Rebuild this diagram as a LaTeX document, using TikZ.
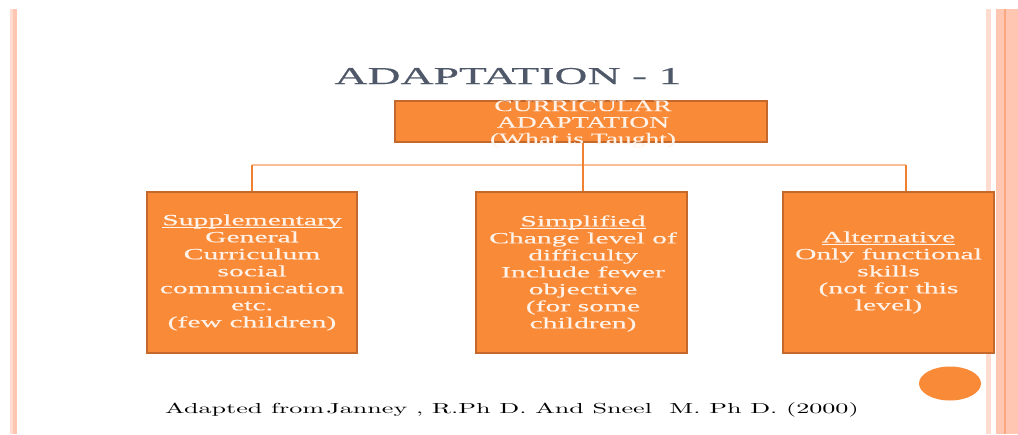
\documentclass[tikz,border=0pt]{standalone}
\usepackage{fontspec}
\newfontfamily\widefont{lmroman10-regular.otf}[FakeStretch=1.8]
\newfontfamily\boxserif{Liberation Serif}[FakeStretch=1.9, FakeBold=0.4]
\newfontfamily\topserif{Liberation Serif}[FakeStretch=1.72, FakeBold=0.3]
\newfontfamily\titleserif{Liberation Serif}[FakeStretch=1.89, FakeBold=0.3]
% underline drawn as a thin rule that does not add to the line depth
\newcommand\headul[1]{\setbox0\hbox{#1}\rlap{\rule[-2.6pt]{\wd0}{0.75pt}}\box0}
\definecolor{boxfill}{RGB}{249,138,56}
\definecolor{boxline}{RGB}{196,104,44}
\definecolor{linkcol}{RGB}{240,128,50}
\definecolor{buscol}{RGB}{249,190,150}
\definecolor{titlecol}{RGB}{78,88,104}
\definecolor{boxtextcol}{RGB}{255,242,232}
\definecolor{stripepale}{RGB}{255,220,208}
\definecolor{stripesalmon}{RGB}{255,198,178}
\definecolor{stripedark}{RGB}{250,168,128}
\tikzset{
  orangebox/.style={draw=boxline, line width=1.8pt, fill=boxfill, inner sep=0pt},
  boxlabel/.style={text=boxtextcol, align=center, inner sep=0pt,
    font=\boxserif\fontsize{15.6}{17}\selectfont},
  toplabel/.style={text=boxtextcol, align=center, inner sep=0pt,
    font=\topserif\fontsize{16}{16.5}\selectfont},
  link/.style={draw=linkcol, line width=1.4pt},
  busline/.style={draw=buscol, line width=1.8pt},
}
\begin{document}
\begin{tikzpicture}[x=1pt,y=-1pt]
\useasboundingbox (0,0) rectangle (1018,434);
\fill[white] (0,0) rectangle (1018,434);
% decorative side stripes
\fill[stripepale] (10,9) rectangle (12.5,434);
\fill[stripesalmon] (12.5,9) rectangle (17,434);
\fill[stripepale] (986,9) rectangle (991,434);
\fill[stripesalmon] (996,9) rectangle (1018,434);
\fill[stripedark] (1004,9) rectangle (1006,434);
% title
\node[anchor=base, text=titlecol, inner sep=0pt,
  font=\titleserif\fontsize{24.2}{27}\selectfont] (title) at (508,84) {ADAPTATION - 1};
% top box
\node[orangebox, minimum width=372pt, minimum height=41pt] (top) at (581,121.5) {};
\node[toplabel] (toplbl) at (583,124) {CURRICULAR\\ADAPTATION\\(What is Taught)};
% child boxes
\node[orangebox, minimum width=210pt, minimum height=161pt] (b1) at (252,272.5) {};
\node[boxlabel] (b1lbl) at (b1.center) {\headul{Supplementary}\\General\\Curriculum\\social\\communication\\etc.\\(few children)};
\node[orangebox, minimum width=211pt, minimum height=161pt] (b2) at (581.5,272.5) {};
\node[boxlabel] (b2lbl) at (583,273.5) {\headul{Simplified}\\Change level of\\difficulty\\Include fewer\\objective\\(for some\\children)};
\node[orangebox, minimum width=211pt, minimum height=161pt] (b3) at (888.5,272.5) {};
\node[boxlabel] (b3lbl) at (b3.center) {\headul{Alternative}\\Only functional\\skills\\(not for this\\level)};
% connectors
\coordinate (busL) at (252,165);
\coordinate (busM) at (583,165);
\coordinate (busR) at (906,165);
\draw[busline] (busL) -- (busR);
\draw[link] (top.south -| busM) -- (busM);
\draw[link] (busL) -- (busL |- b1.north);
\draw[link] (busM) -- (busM |- b2.north);
\draw[link] (busR) -- (busR |- b3.north);
% round marker
\fill[boxfill] (950,383.5) ellipse [x radius=31, y radius=17];
% source line
\node[anchor=base west, inner sep=0pt, font=\widefont\fontsize{14.5}{17}\selectfont] (source) at (165,413)
  {Adapted from\,Janney , R.Ph D. And Sneel\ \ M. Ph D. (2000)};
\end{tikzpicture}
\end{document}
